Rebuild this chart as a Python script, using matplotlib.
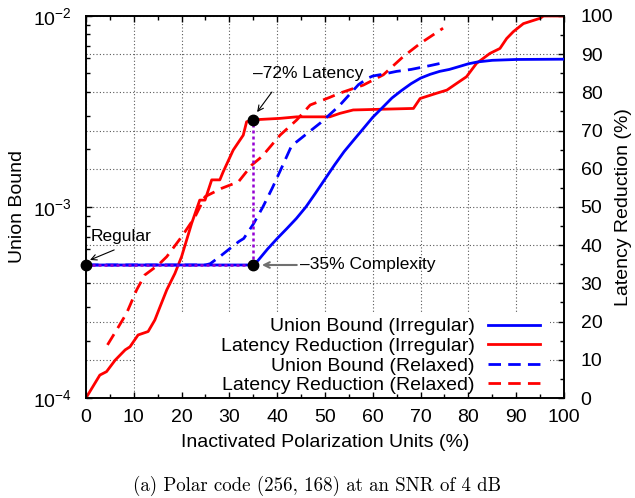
import matplotlib
matplotlib.use('Agg')
import matplotlib.pyplot as plt
from matplotlib.patches import Rectangle
from matplotlib.ticker import LogLocator, MultipleLocator, NullFormatter

plt.rcParams['font.family'] = ['Liberation Sans', 'DejaVu Sans']
plt.rcParams['mathtext.fontset'] = 'custom'
plt.rcParams['mathtext.rm'] = 'Liberation Sans'
plt.rcParams['mathtext.it'] = 'Liberation Sans:italic'
plt.rcParams['mathtext.bf'] = 'Liberation Sans:bold'

# ---------------- data ----------------
# Union Bound (Irregular)  [left, log axis]
ub_irr_x = [0, 35, 36, 38, 40, 42, 44, 46, 48, 50, 52, 54, 56, 58, 60, 62, 64, 66, 68, 70,
            72, 74, 76, 78, 80, 82, 85, 90, 100]
ub_irr_y = [4.97e-4, 4.97e-4, 5.25e-4, 6.03e-4, 6.84e-4, 7.70e-4, 8.70e-4, 1.00e-3, 1.18e-3,
            1.40e-3, 1.66e-3, 1.95e-3, 2.24e-3, 2.57e-3, 2.95e-3, 3.31e-3, 3.72e-3, 4.07e-3,
            4.42e-3, 4.73e-3, 4.95e-3, 5.13e-3, 5.25e-3, 5.43e-3, 5.62e-3, 5.75e-3, 5.86e-3,
            5.92e-3, 5.94e-3]

# Union Bound (Relaxed)  [left, log axis]
ub_rel_x = [0, 25, 26, 28, 30, 32, 33, 35, 37, 39, 41, 43, 45, 47, 49, 51, 53, 55, 57, 59,
            60, 62, 65, 68, 72, 75]
ub_rel_y = [4.97e-4, 4.97e-4, 5.05e-4, 5.50e-4, 6.03e-4, 6.60e-4, 6.84e-4, 8.13e-4, 1.00e-3,
            1.26e-3, 1.62e-3, 2.09e-3, 2.29e-3, 2.51e-3, 2.75e-3, 3.05e-3, 3.39e-3, 3.85e-3,
            4.37e-3, 4.73e-3, 4.85e-3, 4.95e-3, 5.13e-3, 5.25e-3, 5.50e-3, 5.71e-3]

# Latency Reduction (Irregular)  [right axis, %]
lr_irr_x = [0, 2.9, 4.3, 6.1, 8.2, 9.2, 10.9, 13.0, 14.4, 15.5, 16.9, 18.6, 20.0, 22.1, 23.8,
            24.9, 26.3, 28.0, 28.7, 30.8, 32.9, 33.6, 34.7, 40.6, 44.1, 51.0, 53.1, 55.9, 68.5,
            69.9, 73.4, 75.5, 77.6, 79.6, 81.7, 84.5, 86.6, 88.0, 89.4, 91.5, 95.0, 95.7, 100]
lr_irr_y = [0, 6.0, 6.9, 9.9, 12.6, 13.4, 16.5, 17.4, 20.4, 23.9, 28.3, 32.6, 37.0, 45.7, 51.8,
            51.8, 57.1, 57.1, 59.2, 64.9, 68.8, 72.3, 72.8, 73.2, 73.6, 73.6, 74.5, 75.4, 75.8,
            78.4, 79.8, 80.6, 82.4, 84.1, 87.6, 90.2, 91.5, 94.1, 95.9, 98.0, 99.4, 100, 100]

# Latency Reduction (Relaxed)  [right axis, %]
lr_rel_x = [4.5, 6.5, 8.5, 10.6, 12.3, 13.7, 15.1, 16.9, 20.0, 22.8, 24.9, 28.4, 31.9, 34.7,
            36.8, 40.6, 44.1, 46.9, 51.0, 53.1, 58.0, 62.2, 66.4, 69.9, 74.7]
lr_rel_y = [13.9, 18.0, 22.2, 28.3, 32.2, 33.5, 34.8, 37.0, 42.2, 47.4, 52.7, 54.9, 56.6, 61.0,
            63.2, 68.8, 72.8, 76.7, 78.7, 79.8, 81.9, 84.6, 89.4, 92.8, 96.8]

# key points (black dots)
pt_x = [0, 35, 35]
pt_ub = [4.97e-4, 4.97e-4, 2.85e-3]

labels = ['Union Bound (Irregular)', 'Latency Reduction (Irregular)',
          'Union Bound (Relaxed)', 'Latency Reduction (Relaxed)']

# ---------------- figure ----------------
fig = plt.figure(figsize=(6.35, 4.98), dpi=100)
ax1 = fig.add_axes([0.1354, 0.2008, 0.7528, 0.7671])
ax2 = ax1.twinx()
ax1.set_zorder(ax2.get_zorder() + 1)
ax1.patch.set_visible(False)

BLUE = '#0000ff'
RED = '#ff0000'
PURPLE = '#9400d3'
LW = 2.0
dash = (0, (4.5, 2.6))

# grid on ax2 (right axis ticks + x ticks)
ax2.xaxis.set_visible(True)
ax2.tick_params(axis='x', which='both', bottom=False, top=False, labelbottom=False, labeltop=False)
ax2.set_axisbelow(True)
ax2.grid(True, which='major', axis='both', color='0.35', linestyle=(0, (1, 2)), linewidth=0.8)

# white key box hiding the grid
ax2.add_patch(Rectangle((0.103, 0.0), 0.867, 0.2225, transform=ax2.transAxes,
                        facecolor='white', edgecolor='none', zorder=1))

l_lr_irr, = ax2.plot(lr_irr_x, lr_irr_y, color=RED, lw=LW, zorder=3)
l_lr_rel, = ax2.plot(lr_rel_x, lr_rel_y, color=RED, lw=LW, linestyle=dash, zorder=3)

l_ub_irr, = ax1.plot(ub_irr_x, ub_irr_y, color=BLUE, lw=LW, zorder=3)
l_ub_rel, = ax1.plot(ub_rel_x, ub_rel_y, color=BLUE, lw=LW, linestyle=dash, zorder=3)

# purple dotted guides
ax1.plot([pt_x[0], pt_x[1]], [pt_ub[0], pt_ub[1]], color=PURPLE, lw=1.8,
         linestyle=(0, (1.2, 1.2)), zorder=4)
ax1.plot([pt_x[1], pt_x[2]], [pt_ub[1], pt_ub[2]], color=PURPLE, lw=1.8,
         linestyle=(0, (1.2, 1.2)), zorder=4)
ax1.plot(pt_x, pt_ub, linestyle='none', marker='o', markersize=7.5, color='black', zorder=6,
         clip_on=False)

# scales
ax1.set_xlim(0, 100)
ax1.set_yscale('log')
ax1.set_ylim(1e-4, 1e-2)
ax2.set_ylim(0, 100)

ax1.xaxis.set_major_locator(MultipleLocator(10))
ax1.xaxis.set_minor_locator(MultipleLocator(5))
ax2.yaxis.set_major_locator(MultipleLocator(10))
ax2.yaxis.set_minor_locator(MultipleLocator(5))
ax1.yaxis.set_major_locator(LogLocator(base=10, numticks=10))
ax1.yaxis.set_minor_locator(LogLocator(base=10, subs=range(2, 10), numticks=20))
ax1.yaxis.set_minor_formatter(NullFormatter())

FS = 14
AFS = 12.5
ax1.tick_params(axis='x', which='both', direction='in', top=True, bottom=True, labelsize=FS, pad=8)
ax1.tick_params(axis='y', which='both', direction='in', left=True, right=False, labelsize=FS, pad=10)
ax2.tick_params(axis='y', which='both', direction='in', left=False, right=True, labelsize=FS, pad=12)
ax1.tick_params(which='major', length=4.5, width=1.0)
ax1.tick_params(which='minor', length=2.8, width=1.0)
ax2.tick_params(axis='y', which='major', length=4.5, width=1.0)
ax2.tick_params(axis='y', which='minor', length=2.8, width=1.0)

for a in (ax1, ax2):
    for s in a.spines.values():
        s.set_linewidth(1.2)

ax1.set_xlabel('Inactivated Polarization Units (%)', fontsize=FS, labelpad=6)
ax1.set_ylabel('Union Bound', fontsize=FS, labelpad=5)
ax2.set_ylabel('Latency Reduction (%)', fontsize=FS, labelpad=1)

# annotations
ax1.text(1.05, 6.97e-4, 'Regular', fontsize=AFS, ha='left', va='center', zorder=7)
ax1.annotate('', xy=(0.84, 5.28e-4), xytext=(5.9, 5.96e-4),
             arrowprops=dict(arrowstyle='->', color='black', lw=0.8, shrinkA=0, shrinkB=0), zorder=7)
ax1.text(35.0, 4.97e-3, '\u201372% Latency', fontsize=AFS, ha='left', va='center', zorder=7)
ax1.annotate('', xy=(35.8, 3.14e-3), xytext=(38.9, 4.0e-3),
             arrowprops=dict(arrowstyle='->', color='black', lw=0.8, shrinkA=0, shrinkB=0), zorder=7)
ax1.text(44.8, 4.97e-4, '\u201335% Complexity', fontsize=AFS, ha='left', va='center', zorder=7)
ax1.annotate('', xy=(36.8, 4.97e-4), xytext=(44.1, 4.97e-4),
             arrowprops=dict(arrowstyle='->', color='#707070', lw=1.5, shrinkA=0, shrinkB=0), zorder=7)

leg = ax1.legend([l_ub_irr, l_lr_irr, l_ub_rel, l_lr_rel], labels, loc='lower right',
                 bbox_to_anchor=(0.958, 0.0), frameon=False, fontsize=FS, markerfirst=False,
                 handlelength=2.7, handletextpad=0.65, labelspacing=0.1, borderpad=0.0,
                 borderaxespad=0.2)
leg.set_zorder(8)

fig.text(0.5, 0.024, '(a) Polar code (256, 168) at an SNR of 4 dB', fontsize=13.6,
         family='cmr10', ha='center', va='center')

fig.savefig('out.png', dpi=100)
